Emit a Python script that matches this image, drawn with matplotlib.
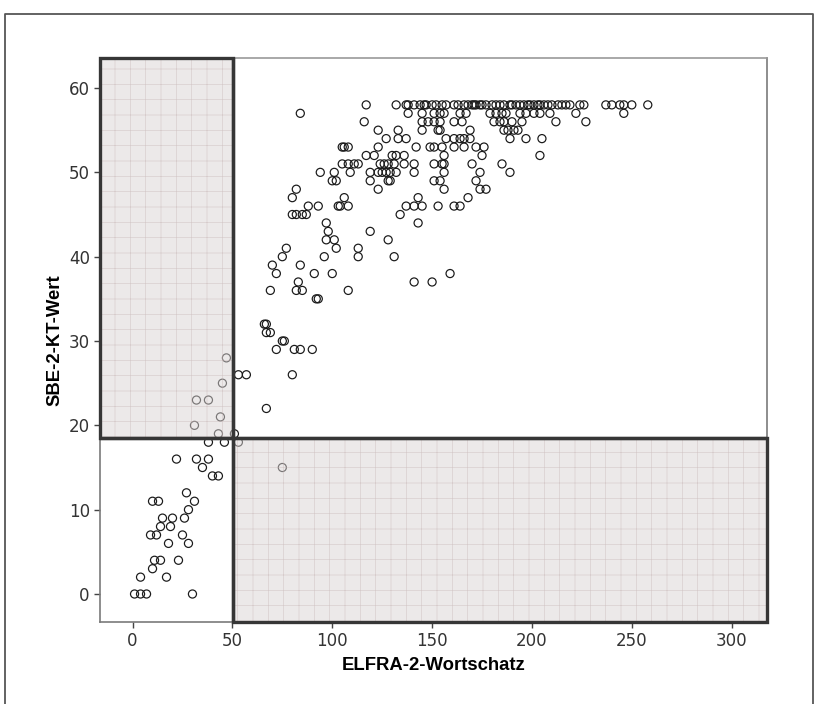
import numpy as np
import matplotlib
matplotlib.use("Agg")
import matplotlib.pyplot as plt
from matplotlib.patches import Rectangle
from matplotlib.lines import Line2D

# Werte: SBE-2-KT-Wert (y) je Zeile, ELFRA-2-Wortschatz (x)
rows = {
    58: [117, 132, 137, 138, 141, 144, 146, 147, 150, 152, 155, 157, 161, 163, 166, 168, 170, 171,
         172, 174, 175, 177, 180, 182, 184, 186, 189, 190, 192, 194, 196, 198, 199, 201, 203, 204,
         206, 208, 210, 213, 215, 217, 219, 224, 226, 237, 240, 244, 246, 250, 258],
    57: [84, 138, 145, 151, 154, 156, 164, 167, 179, 182, 185, 187, 194, 197, 201, 204, 209, 222, 246],
    56: [116, 145, 148, 151, 154, 161, 165, 181, 184, 186, 190, 195, 212, 227],
    55: [123, 133, 145, 153, 154, 169, 186, 188, 191, 193],
    54: [127, 133, 137, 157, 161, 164, 166, 169, 189, 197, 205],
    53: [105, 106, 108, 123, 142, 149, 151, 155, 161, 166, 172, 176],
    52: [117, 121, 130, 132, 136, 156, 175, 204],
    51: [105, 108, 111, 113, 124, 126, 128, 131, 136, 141, 151, 155, 156, 170, 185],
    50: [94, 101, 109, 119, 123, 125, 127, 129, 132, 141, 156, 174, 189],
    49: [100, 102, 119, 128, 129, 151, 154, 172],
    48: [82, 123, 156, 174, 177],
    47: [80, 106, 143, 168],
    46: [88, 93, 103, 104, 108, 137, 141, 145, 153, 161, 164],
    45: [80, 82, 85, 87, 134],
    44: [97, 143],
    43: [98, 119],
    42: [97, 101, 128],
    41: [77, 102, 113],
    40: [75, 96, 113, 131],
    39: [70, 84],
    38: [72, 91, 100, 159],
    37: [83, 141, 150],
    36: [69, 82, 85, 108],
    35: [92, 93],
    32: [66, 67],
    31: [67, 69],
    30: [75, 76],
    29: [72, 81, 84, 90],
    28: [47],
    26: [53, 57, 80],
    25: [45],
    23: [32, 38],
    22: [67],
    21: [44],
    20: [31],
    19: [43, 51],
    18: [38, 46, 53],
    16: [22, 32, 38],
    15: [35, 75],
    14: [40, 43],
    12: [27],
    11: [10, 13, 31],
    10: [28],
    9: [15, 20, 26],
    8: [14, 19],
    7: [9, 12, 25],
    6: [18, 28],
    4: [11, 14, 23],
    3: [10],
    2: [4, 17],
    0: [1, 4, 7, 30],
}
wortschatz = np.array([x for y, xs in rows.items() for x in xs])
kt_wert = np.array([y for y, xs in rows.items() for x in xs])

grenze_x = 50.5
grenze_y = 18.5
x_ticks = [0, 50, 100, 150, 200, 250, 300]
y_ticks = [0, 10, 20, 30, 40, 50, 60]

DPI = 92
plt.rcParams['hatch.linewidth'] = 0.5
plt.rcParams['font.family'] = ['Liberation Sans', 'DejaVu Sans']

fig = plt.figure(figsize=(815 / DPI, 704 / DPI), dpi=DPI)
ax = fig.add_axes([100 / 815, 82 / 704, 667 / 815, 564 / 704])
ax.set_xlim(-16.3, 317.7)
ax.set_ylim(-3.32, 63.56)

ax.scatter(wortschatz, kt_wert, s=40, facecolors='none', edgecolors='#1a1a1a',
           linewidths=0.95, zorder=2)

# schattierte Bereiche oberhalb der Punkte (Punkte erscheinen grau)
x0, x1 = ax.get_xlim()
y0, y1 = ax.get_ylim()
for (a, b, w, h) in [(x0, grenze_y, grenze_x - x0, y1 - grenze_y),
                     (grenze_x, y0, x1 - grenze_x, grenze_y - y0)]:
    ax.add_patch(Rectangle((a, b), w, h, facecolor=(0.86, 0.835, 0.835), alpha=0.5,
                           hatch='+', edgecolor='#c2aeae', linewidth=0, zorder=3))
    ax.add_patch(Rectangle((a, b), w, h, facecolor='none', edgecolor='#363636',
                           linewidth=2.6, zorder=4, clip_on=False))

ax.axvline(grenze_x, color='#363636', lw=2.6, zorder=4)
ax.axhline(grenze_y, color='#363636', lw=2.6, zorder=4)

for s in ax.spines.values():
    s.set_color('#7a7a7a')
    s.set_linewidth(1.3)
ax.spines['top'].set_color('#999999')

ax.set_xticks(x_ticks)
ax.set_yticks(y_ticks)
ax.tick_params(direction='out', length=5, width=1.1, color='#444444',
               labelsize=13, labelcolor='#333333', pad=3)
for lab in ax.get_xticklabels() + ax.get_yticklabels():
    lab.set_family(['Liberation Sans Narrow', 'DejaVu Sans'])

ax.set_xlabel('ELFRA-2-Wortschatz', fontsize=14.5, fontweight='bold', labelpad=5)
ax.set_ylabel('SBE-2-KT-Wert', fontsize=14.5, fontweight='bold', labelpad=4)

# äußerer Rahmen
fx = [5 / 815, 5 / 815, 813 / 815, 813 / 815]
fy = [0, 1 - 14 / 704, 1 - 14 / 704, 0]
fig.add_artist(Line2D(fx, fy, color='#555555', lw=1.4, transform=fig.transFigure))

fig.savefig('out.png', dpi=DPI)
